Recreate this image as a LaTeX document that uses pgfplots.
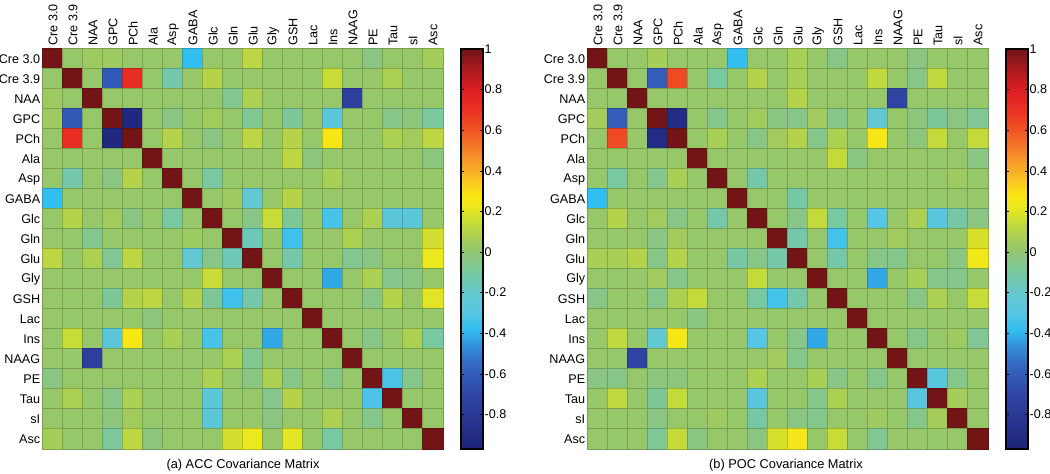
\documentclass[border=0pt]{standalone}
\usepackage{fontspec}
\setmainfont{Liberation Sans}
\usepackage{pgfplots}
\usepackage{pgfplotstable}
\pgfplotsset{compat=1.18}

% ACC covariance matrix (rows/cols: Cre3.0 ... Asc)
\pgfplotstableread[header=false]{
1 0.02 0.04 0.04 0.02 0.02 0.02 -0.38 0.02 0.02 0.12 0.02 0.02 0.02 0.02 0.02 -0.03 0.02 0.02 0.06
0.02 1 0.02 -0.62 0.72 0.02 -0.12 0.02 0.10 0.02 0.02 0.02 0.02 0.02 0.15 0.02 0.02 0.08 0.02 0.02
0.04 0.02 1 0.02 0.02 0.02 0.02 0.02 0.02 -0.06 0.08 0.02 0.02 0.02 0.02 -0.75 0.02 0.02 0.02 0.02
0.04 -0.62 0.02 1 -0.93 0.02 -0.03 0.02 0.05 0.02 -0.07 0.02 -0.08 0.02 -0.25 0.02 0.02 -0.04 -0.02 -0.09
0.02 0.72 0.02 -0.93 1 0.02 0.10 0.02 -0.03 0.02 0.12 0.02 0.10 0.02 0.27 0.02 0.02 0.08 0.05 0.12
0.02 0.02 0.02 0.02 0.02 1 0.02 0.02 0.02 0.02 0.02 0.02 0.12 -0.02 0.02 0.02 0.02 0.02 0.02 -0.02
0.02 -0.12 0.02 -0.03 0.10 0.02 1 0.02 -0.10 0.02 0.02 0.02 0.02 0.02 0.07 0.02 0.02 0.02 0.02 0.02
-0.38 0.02 0.02 0.02 0.02 0.02 0.02 1 0.02 0.04 -0.22 0.02 0.10 0.02 0.02 0.02 0.02 0.02 0.02 0.02
0.02 0.10 0.02 0.05 -0.03 0.02 -0.10 0.02 1 0.02 -0.04 0.15 -0.08 0.02 -0.33 0.02 0.08 -0.25 -0.25 0.02
0.02 0.02 -0.06 0.02 0.02 0.02 0.02 0.04 0.02 1 -0.15 0.02 -0.35 0.02 0.02 0.08 0.02 0.02 0.02 0.17
0.12 0.02 0.08 -0.07 0.12 0.02 0.02 -0.22 -0.04 -0.15 1 0.02 -0.12 0.02 0.02 -0.06 -0.03 0.02 0.02 0.22
0.02 0.02 0.02 0.02 0.02 0.02 0.02 0.02 0.15 0.02 0.02 1 0.02 0.02 -0.42 0.02 0.08 -0.05 -0.03 0.02
0.02 0.02 0.02 -0.08 0.10 0.12 0.02 0.10 -0.08 -0.35 -0.12 0.02 1 0.02 0.02 0.02 -0.04 0.10 0.02 0.20
0.02 0.02 0.02 0.02 0.02 -0.02 0.02 0.02 0.02 0.02 0.02 0.02 0.02 1 0.02 0.02 0.02 0.02 0.02 0.02
0.02 0.15 0.02 -0.25 0.27 0.02 0.07 0.02 -0.33 0.02 0.02 -0.42 0.02 0.02 1 0.02 -0.04 0.02 0.08 -0.10
0.02 0.02 -0.75 0.02 0.02 0.02 0.02 0.02 0.02 0.08 -0.06 0.02 0.02 0.02 0.02 1 0.02 0.02 0.02 0.02
-0.03 0.02 0.02 0.02 0.02 0.02 0.02 0.02 0.08 0.02 -0.03 0.08 -0.04 0.02 -0.04 0.02 1 -0.32 -0.05 0.02
0.02 0.08 0.02 -0.04 0.08 0.02 0.02 0.02 -0.25 0.02 0.02 -0.05 0.10 0.02 0.02 0.02 -0.32 1 0.02 0.02
0.02 0.02 0.02 -0.02 0.05 0.02 0.02 0.02 -0.25 0.02 0.02 -0.03 0.02 0.02 0.08 0.02 -0.05 0.02 1 0.02
0.06 0.02 0.02 -0.09 0.12 -0.02 0.02 0.02 0.02 0.17 0.22 0.02 0.20 0.02 -0.10 0.02 0.02 0.02 0.02 1
}\acc

% POC covariance matrix
\pgfplotstableread[header=false]{
1 0.02 0.02 0.06 0.02 0.02 0.02 -0.38 0.02 0.02 0.07 0.02 -0.04 0.02 0.02 0.02 -0.03 0.02 0.02 0.02
0.02 1 0.02 -0.60 0.63 0.02 -0.10 0.02 0.10 0.02 0.07 0.02 0.02 0.02 0.13 0.02 -0.04 0.13 0.02 0.02
0.02 0.02 1 0.02 0.02 0.02 0.02 0.02 0.02 0.02 0.10 0.02 0.02 0.02 0.02 -0.72 0.02 0.02 0.02 0.02
0.06 -0.60 0.02 1 -0.90 0.02 -0.05 0.02 0.05 -0.03 -0.04 0.05 -0.05 0.02 -0.22 0.02 -0.02 -0.08 -0.03 -0.07
0.02 0.63 0.02 -0.90 1 0.02 0.07 0.02 -0.04 0.05 0.10 -0.05 0.08 0.02 0.27 0.02 -0.02 0.14 0.02 0.14
0.02 0.02 0.02 0.02 0.02 1 0.02 0.02 0.02 0.02 0.02 0.02 0.14 -0.03 0.02 0.02 0.02 0.02 0.02 -0.03
0.02 -0.10 0.02 -0.05 0.07 0.02 1 0.02 -0.12 0.02 0.02 0.02 0.02 0.02 0.02 0.02 0.02 0.02 0.04 0.02
-0.38 0.02 0.02 0.02 0.02 0.02 0.02 1 0.02 0.02 -0.11 0.02 0.02 0.02 0.02 0.02 0.02 0.02 0.02 0.02
0.02 0.10 0.02 0.05 -0.04 0.02 -0.12 0.02 1 0.02 -0.04 0.14 -0.10 0.02 -0.30 0.02 0.08 -0.28 -0.11 -0.03
0.02 0.02 0.02 -0.03 0.05 0.02 0.02 0.02 0.02 1 -0.12 0.02 -0.34 0.02 0.02 0.05 0.02 0.02 0.02 0.18
0.07 0.07 0.10 -0.04 0.10 0.02 0.02 -0.11 -0.04 -0.12 1 0.02 -0.12 0.02 -0.04 -0.05 0.02 0.02 -0.03 0.25
0.02 0.02 0.02 0.05 -0.05 0.02 0.02 0.02 0.14 0.02 0.02 1 0.02 0.02 -0.42 0.02 0.07 -0.05 -0.05 0.02
-0.04 0.02 0.02 -0.05 0.08 0.14 0.02 0.02 -0.10 -0.34 -0.12 0.02 1 0.02 0.02 0.02 -0.04 0.08 0.02 0.15
0.02 0.02 0.02 0.02 0.02 -0.03 0.02 0.02 0.02 0.02 0.02 0.02 0.02 1 0.02 0.02 0.02 0.02 0.02 0.02
0.02 0.13 0.02 -0.22 0.27 0.02 0.02 0.02 -0.30 0.02 -0.04 -0.42 0.02 0.02 1 0.02 -0.05 0.02 0.04 -0.07
0.02 0.02 -0.72 0.02 0.02 0.02 0.02 0.02 0.02 0.05 -0.05 0.02 0.02 0.02 0.02 1 0.02 0.02 0.02 0.02
-0.03 -0.04 0.02 -0.02 -0.02 0.02 0.02 0.02 0.08 0.02 0.02 0.07 -0.04 0.02 -0.05 0.02 1 -0.28 -0.05 0.02
0.02 0.13 0.02 -0.08 0.14 0.02 0.02 0.02 -0.28 0.02 0.02 -0.05 0.08 0.02 0.02 0.02 -0.28 1 0.06 0.02
0.02 0.02 0.02 -0.03 0.02 0.02 0.04 0.02 -0.11 0.02 -0.03 -0.05 0.02 0.02 0.04 0.02 -0.05 0.06 1 0.02
0.02 0.02 0.02 -0.07 0.14 -0.03 0.02 0.02 -0.03 0.18 0.25 0.02 0.15 0.02 -0.07 0.02 0.02 0.02 0.02 1
}\poc

\pgfplotsset{
  colormap={covjet}{
    rgb255(3)=(30,35,120)
    rgb255(15)=(38,50,140)
    rgb255(30)=(48,70,165)
    rgb255(45)=(52,105,195)
    rgb255(55)=(50,150,220)
    rgb255(62)=(50,190,240)
    rgb255(70)=(85,198,228)
    rgb255(80)=(100,200,205)
    rgb255(90)=(120,200,160)
    rgb255(97)=(138,198,130)
    rgb255(102)=(150,200,105)
    rgb255(108)=(172,208,82)
    rgb255(115)=(200,220,55)
    rgb255(122)=(235,232,30)
    rgb255(128)=(250,230,20)
    rgb255(135)=(250,200,35)
    rgb255(140)=(248,175,40)
    rgb255(150)=(245,130,40)
    rgb255(160)=(240,85,35)
    rgb255(170)=(235,50,35)
    rgb255(180)=(220,30,35)
    rgb255(190)=(170,25,30)
    rgb255(200)=(115,20,22)
  },
  covmat/.style={
    width=200pt, height=200pt, scale only axis,
    xmin=-0.5, xmax=19.5, ymin=-0.5, ymax=19.5,
    y dir=reverse,
    xtick={0,...,19}, ytick={0,...,19},
    xticklabels={Cre 3.0,Cre 3.9,NAA,GPC,PCh,Ala,Asp,GABA,Glc,Gln,Glu,Gly,GSH,Lac,Ins,NAAG,PE,Tau,sI,Asc},
    yticklabels={Cre 3.0,Cre 3.9,NAA,GPC,PCh,Ala,Asp,GABA,Glc,Gln,Glu,Gly,GSH,Lac,Ins,NAAG,PE,Tau,sI,Asc},
    xticklabel pos=upper,
    tick label style={font=\fontsize{6.3}{7.5}\selectfont},
    x tick label style={rotate=90, anchor=west, inner sep=1.5pt},
    y tick label style={inner sep=1.2pt},
    major tick length=0pt,
    minor xtick={0.5,1.5,...,18.5},
    minor ytick={0.5,1.5,...,18.5},
    minor tick length=0pt,
    xminorgrids=true, yminorgrids=true,
    minor grid style={black, line width=0.85pt},
    axis line style={black, line width=0.8pt},
    axis on top,
    colormap name=covjet,
    point meta min=-0.97, point meta max=1,
    colorbar,
    colorbar style={
      at={(parent axis.north east)}, anchor=north west, xshift=0.5pt,
      scale only axis, width=11pt,
      ytick={-0.8,-0.6,-0.4,-0.2,0,0.2,0.4,0.6,0.8,1},
      yticklabel style={font=\fontsize{6.3}{7.5}\selectfont,
        /pgf/number format/assume math mode=true,
        /pgf/number format/fixed, inner sep=0.6pt},
      major tick length=1.5pt,
      tick style={black},
      axis line style={black, line width=0.6pt},
    },
  },
}

\begin{document}
\begin{tikzpicture}
\useasboundingbox (0,0) rectangle (525pt,236.5pt);

\begin{axis}[covmat, at={(21.5pt,12pt)}, anchor=south west]
\pgfplotsinvokeforeach{0,...,19}{
  \addplot[scatter, only marks, mark=square*, mark size=5.1pt, scatter src=explicit]
    table[x expr=#1, y expr=\coordindex, meta index=#1] {\acc};
}
\end{axis}

\begin{axis}[covmat, at={(294pt,12pt)}, anchor=south west]
\pgfplotsinvokeforeach{0,...,19}{
  \addplot[scatter, only marks, mark=square*, mark size=5.1pt, scatter src=explicit]
    table[x expr=#1, y expr=\coordindex, meta index=#1] {\poc};
}
\end{axis}

\node[font=\fontsize{6.4}{7.5}\selectfont] at (121.5pt,4pt) {(a) ACC Covariance Matrix};
\node[font=\fontsize{6.4}{7.5}\selectfont] at (393pt,4pt) {(b) POC Covariance Matrix};
\end{tikzpicture}
\end{document}
